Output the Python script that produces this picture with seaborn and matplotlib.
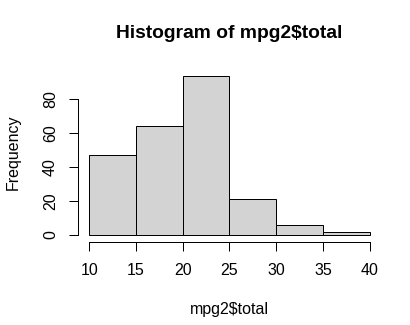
import numpy as np
import pandas as pd
import matplotlib
matplotlib.use("Agg")
import matplotlib.pyplot as plt
import seaborn as sns

# Histogram of combined mileage: bin edges and counts per bin
bin_edges = [10, 15, 20, 25, 30, 35, 40]
bin_counts = [47, 64, 94, 21, 6, 2]
x_ticks = [10, 15, 20, 25, 30, 35, 40]
y_ticks = [0, 20, 40, 60, 80]

sns.set_style("white")
plt.rcParams["font.family"] = ["Liberation Sans", "DejaVu Sans"]
plt.rcParams["text.color"] = "black"
plt.rcParams["axes.labelcolor"] = "black"

mids = [(a + b) / 2 for a, b in zip(bin_edges[:-1], bin_edges[1:])]
df = pd.DataFrame({"total": mids, "n": bin_counts})

DPI = 96
fig = plt.figure(figsize=(410 / DPI, 325 / DPI), dpi=DPI)
W, H = 410, 325
left, right, top, bottom = 78, 381, 62.6, 241.6
ax = fig.add_axes([left / W, 1 - bottom / H, (right - left) / W, (bottom - top) / H])

sns.histplot(data=df, x="total", weights="n", bins=bin_edges, ax=ax,
             color="#D3D3D3", edgecolor="black", linewidth=0.75, alpha=1.0)

ax.set_xlim(8.8, 41.2)
ymax = max(bin_counts) * 1.04
ax.set_ylim(-0.04 * ymax, ymax * 1.04)

for s in ["top", "right"]:
    ax.spines[s].set_visible(False)
for s in ["left", "bottom"]:
    ax.spines[s].set_linewidth(0.75)
    ax.spines[s].set_color("black")
ax.spines["left"].set_bounds(y_ticks[0], y_ticks[-1])
ax.spines["bottom"].set_bounds(x_ticks[0], x_ticks[-1])

ax.set_xticks(x_ticks)
ax.set_yticks(y_ticks)
ax.tick_params(axis="both", direction="out", length=7, width=0.75, color="black",
               labelsize=12, labelcolor="black", left=True, bottom=True)
ax.tick_params(axis="x", pad=9)
ax.tick_params(axis="y", pad=8)
for lab in ax.get_yticklabels():
    lab.set_rotation(90)
    lab.set_va("center")

ax.set_title(r"Histogram of mpg2\$total", fontsize=14.4, fontweight="bold",
             pad=18.2, color="black")
ax.set_xlabel(r"mpg2\$total", fontsize=12, color="black")
ax.set_ylabel("Frequency", fontsize=12, color="black")
ax.xaxis.label.set_va("baseline")
ax.xaxis.set_label_coords(0.5, (bottom - 314.3) / (bottom - top))
ax.yaxis.label.set_va("baseline")
ax.yaxis.set_label_coords((17.5 - left) / (right - left), 0.5)
ax.grid(False)

fig.savefig("out.png", dpi=DPI)
